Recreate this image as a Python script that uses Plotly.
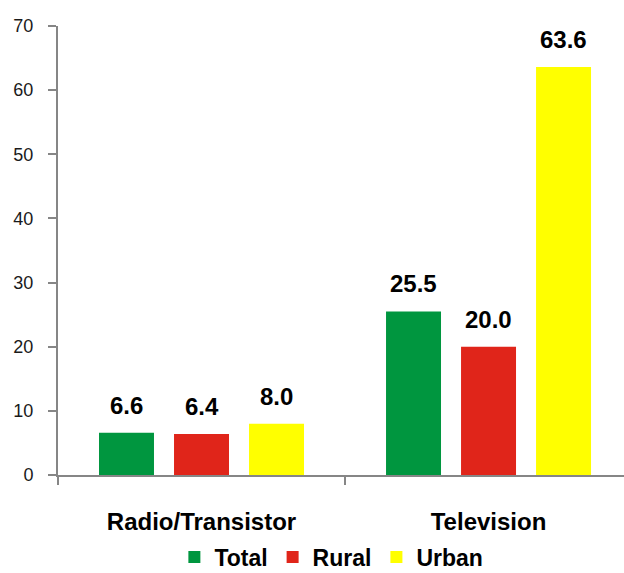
import plotly.graph_objects as go

categories = ["Radio/Transistor", "Television"]
series_names = ["Total", "Rural", "Urban"]
total = [6.6, 25.5]
rural = [6.4, 20.0]
urban = [8.0, 63.6]
colors = ["#00963F", "#E0251A", "#FFFF00"]
y_ticks = [0, 10, 20, 30, 40, 50, 60, 70]

FONT = "Liberation Sans"

fig = go.Figure()
for name, vals, col in zip(series_names, [total, rural, urban], colors):
    fig.add_trace(go.Bar(
        name=name, x=categories, y=vals, marker=dict(color=col, line=dict(width=0)),
        offsetgroup=name,
    ))

# data labels via annotations anchored to data values
offsets = [-1, 0, 1]
for vals, off in zip([total, rural, urban], offsets):
    for i, v in enumerate(vals):
        fig.add_annotation(
            x=i + off * 0.2615, y=v, xref="x", yref="y",
            text=f"<b>{v:.1f}</b>", showarrow=False,
            yanchor="bottom", yshift=12,
            font=dict(family=FONT, size=24, color="#000000"),
        )

fig.update_layout(
    width=624, height=573,
    margin=dict(l=58, r=0, t=26, b=98, autoexpand=False),
    paper_bgcolor="white", plot_bgcolor="white",
    barmode="group", bargap=0.216, bargroupgap=0.267,
    showlegend=True,
    legend=dict(
        orientation="h", x=0.483, xanchor="center", xref="paper",
        y=-0.183, yanchor="middle",
        font=dict(family=FONT, size=23, color="#000000", weight="bold"),
        itemwidth=30, tracegroupgap=0,
    ),
    font=dict(family=FONT),
)
fig.update_xaxes(
    type="category", range=[-0.5, 1.472], automargin=False,
    showline=True, linecolor="#868686", linewidth=2,
    ticks="outside", tickson="boundaries", ticklen=8, tickcolor="#868686", tickwidth=2,
    tickfont=dict(family=FONT, size=24, color="#000000", weight="bold"),
    ticklabelstandoff=24,
    showgrid=False, zeroline=False,
)
fig.update_yaxes(
    range=[0, 70], tickvals=y_ticks, automargin=False,
    showline=True, linecolor="#868686", linewidth=2,
    ticks="outside", ticklen=8, tickcolor="#868686", tickwidth=2,
    tickfont=dict(family=FONT, size=18, color="#1a1a1a"),
    ticklabelstandoff=11,
    showgrid=False, zeroline=False,
)
fig.write_html("out.html", post_script="document.body.style.margin='0';",
               config={"displayModeBar": False})
